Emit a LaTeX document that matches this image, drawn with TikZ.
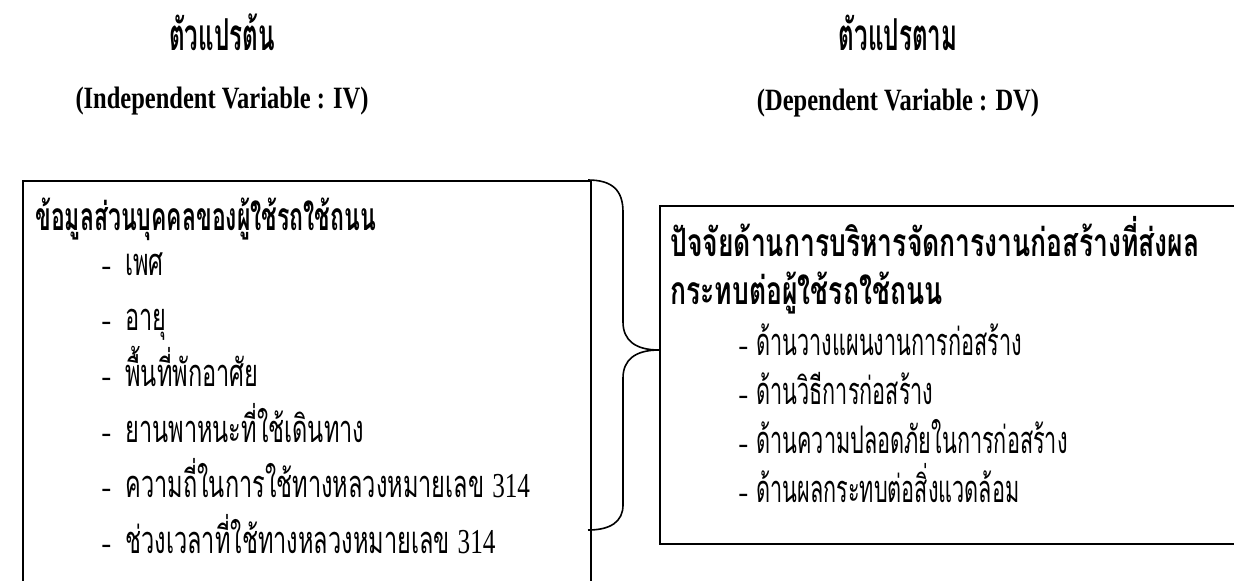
\documentclass[tikz,border=0pt]{standalone}
\usepackage{fontspec}
\setmainfont{Liberation Serif}
\newfontfamily\thaiT[Script=Thai,FakeStretch=0.55]{Loma}
\newfontfamily\thaiL[Script=Thai,FakeStretch=0.62]{Loma}
\newfontfamily\thaiR[Script=Thai,FakeStretch=0.57]{Loma}
\newfontfamily\thaiHL[Script=Thai,FakeStretch=0.59]{Loma}
\newfontfamily\thaiHR[Script=Thai,FakeStretch=0.68]{Loma}
\newfontfamily\subfont[FakeStretch=0.79]{Liberation Serif}
\newfontfamily\numfont[FakeStretch=0.72]{Liberation Serif}
\newcommand{\num}[1]{{\numfont\fontsize{17.5}{20}\selectfont #1}}
\begin{document}
\begin{tikzpicture}[x=0.5pt,y=-0.5pt,
  box/.style={draw,line width=0.8pt,inner sep=0pt,anchor=north west},
  ttl/.style={anchor=base,inner sep=0pt,font=\thaiT\bfseries\fontsize{22}{26}\selectfont},
  sub/.style={anchor=base,inner sep=0pt,font=\subfont\bfseries\fontsize{15.5}{18}\selectfont},
  headL/.style={anchor=base west,inner sep=0pt,font=\thaiHL\bfseries\fontsize{19.5}{23}\selectfont},
  headR/.style={anchor=base west,inner sep=0pt,font=\thaiHR\bfseries\fontsize{19.5}{23}\selectfont},
  itemL/.style={anchor=base west,inner sep=0pt,font=\thaiL\fontsize{19}{23}\selectfont},
  itemR/.style={anchor=base west,inner sep=0pt,font=\thaiR\fontsize{19}{23}\selectfont},
  bullet/.style={anchor=base west,inner sep=0pt,font=\rmfamily\fontsize{15}{18}\selectfont},
  brace/.style={line width=0.8pt}]
\useasboundingbox (0,0) rectangle (1234,580);
% titles
\node[ttl] (t1) at (222,50) {ตัวแปรต้น};
\node[sub] (s1) at (222,108) {(Independent Variable : IV)};
\node[ttl] (t2) at (898,50) {ตัวแปรตาม};
\node[sub] (s2) at (898,110) {(Dependent Variable : DV)};
% boxes
\node[box,minimum width=284pt,minimum height=230pt] (lbox) at (22,180) {};
\node[box,minimum width=300pt,minimum height=169pt] (rbox) at (659,205) {};
% left text
\node[headL] (lh) at (35,230) {ข้อมูลส่วนบุคคลของผู้ใช้รถใช้ถนน};
\foreach \n/\y/\t in {1/275/เพศ,2/330/อายุ,3/386/พื้นที่พักอาศัย,4/442/ยานพาหนะที่ใช้เดินทาง,5/497/{ความถี่ในการใช้ทางหลวงหมายเลข \num{314}},6/553/{ช่วงเวลาที่ใช้ทางหลวงหมายเลข \num{314}}}{
  \node[bullet] (ld\n) at (101,\y) {-};
  \node[itemL] (li\n) at (125,\y) {\t};
}
% right text
\node[headR] (rh1) at (670,256) {ปัจจัยด้านการบริหารจัดการงานก่อสร้างที่ส่งผล};
\node[headR] (rh2) at (670,304) {กระทบต่อผู้ใช้รถใช้ถนน};
\foreach \n/\y/\t in {1/355/ด้านวางแผนงานการก่อสร้าง,2/404/ด้านวิธีการก่อสร้าง,3/453/ด้านความปลอดภัยในการก่อสร้าง,4/502/ด้านผลกระทบต่อสิ่งแวดล้อม}{
  \node[bullet] (rd\n) at (738,\y) {-};
  \node[itemR] (ri\n) at (756,\y) {\t};
}
% brace
\coordinate (tip) at (rbox.west |- 0,350);
\coordinate (btop) at (588,180);
\coordinate (bbot) at (588,530);
\draw[brace] (btop) .. controls (612,180) and (623,190) .. (623,212)
  -- (623,322) .. controls (623,340) and (635,350) .. (tip)
  .. controls (635,350) and (623,360) .. (623,378)
  -- (623,505) .. controls (623,522) and (610,530) .. (bbot);
\end{tikzpicture}
\end{document}
